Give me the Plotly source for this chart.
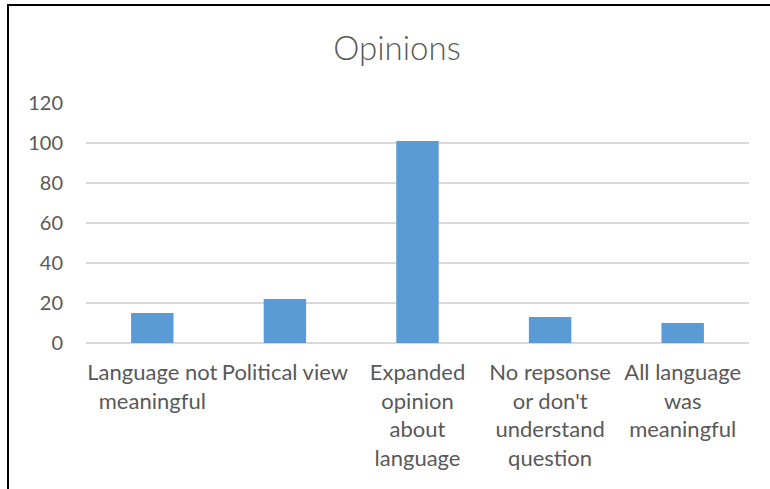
import plotly.graph_objects as go

categories = [
    "Language not<br>meaningful",
    "Political view",
    "Expanded<br>opinion<br>about<br>language",
    "No repsonse<br>or don't<br>understand<br>question",
    "All language<br>was<br>meaningful",
]
values = [15, 22, 101, 13, 10]
y_ticks = [0, 20, 40, 60, 80, 100, 120]

W, H = 770, 489
L, R, T, B = 86, 21, 103, 146
pw, ph = W - L - R, H - T - B

fig = go.Figure(go.Bar(
    x=categories, y=values,
    marker=dict(color="#5B9BD5", line=dict(width=0)),
    width=0.32,
))

def px_to_paper_x(px):
    return (px - L) / pw

def px_to_paper_y(py):
    return (H - B - py) / ph

font_family = "Lato, 'Open Sans', sans-serif"
fig.update_layout(
    width=W, height=H,
    margin=dict(l=L, r=R, t=T, b=B),
    paper_bgcolor="white", plot_bgcolor="white",
    showlegend=False,
    title=dict(text="Opinions", x=397 / W, xref="container", xanchor="center",
               y=1 - 48 / H, yref="container", yanchor="middle",
               font=dict(family=font_family, size=33, color="#595959", weight=300)),
    font=dict(family=font_family, size=20, color="#595959"),
    xaxis=dict(showgrid=False, showline=False, ticks="", tickangle=0,
               ticklabelstandoff=14,
               tickfont=dict(size=22, color="#595959")),
    yaxis=dict(range=[0, 120], tickvals=y_ticks, showgrid=True,
               gridcolor="#D9D9D9", gridwidth=1.5, zeroline=True,
               zerolinecolor="#D9D9D9", zerolinewidth=1.5, ticks="",
               ticklabelstandoff=22,
               tickfont=dict(size=20, color="#595959")),
    shapes=[
        dict(type="line", xref="paper", yref="paper",
             x0=px_to_paper_x(8), x1=px_to_paper_x(8),
             y0=px_to_paper_y(5), y1=px_to_paper_y(489),
             line=dict(color="black", width=2)),
        dict(type="line", xref="paper", yref="paper",
             x0=px_to_paper_x(7), x1=px_to_paper_x(771),
             y0=px_to_paper_y(5), y1=px_to_paper_y(5),
             line=dict(color="black", width=2)),
    ],
)

fig.write_html("out.html")
